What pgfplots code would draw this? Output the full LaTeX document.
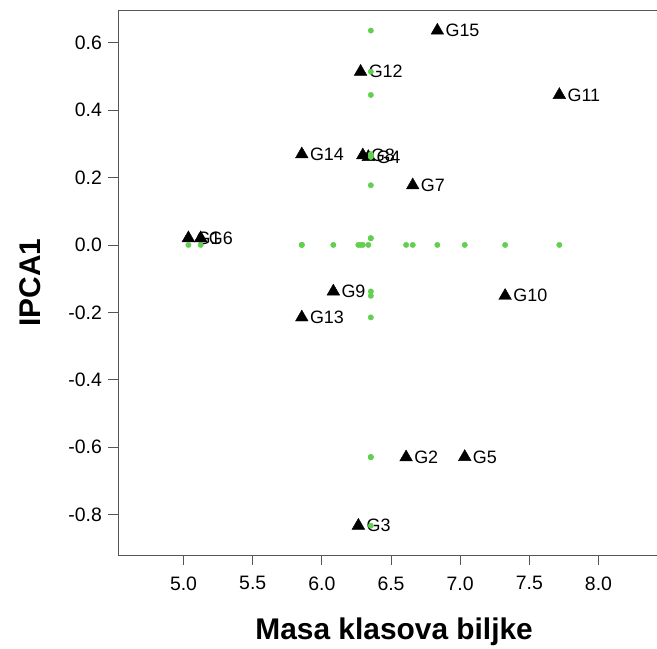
\documentclass[border=0pt]{standalone}
\usepackage{fontspec}
\setmainfont{Liberation Sans}
\usepackage{pgfplots}
\pgfplotsset{compat=1.18}
\definecolor{ptgreen}{HTML}{61D04F}
\definecolor{framegray}{HTML}{555555}

% Genotypes: mass of ears (x) against IPCA1 score (y)
\pgfplotstableread{
x      y       lab
5.035  0.020   G1
6.609  -0.630  G2
6.264  -0.833  G3
6.336  0.261   G4
7.033  -0.629  G5
5.124  0.020   G6
6.657  0.177   G7
6.296  0.266   G8
6.083  -0.138  G9
7.325  -0.151  G10
7.717  0.445   G11
6.280  0.514   G12
5.855  -0.215  G13
5.855  0.269   G14
6.835  0.636   G15
}\genotypes

% Projections onto the IPCA1 = 0 line and onto the line of the mean mass
\pgfplotstableread{
x      y
5.035  0
6.609  0
6.264  0
6.336  0
7.033  0
5.124  0
6.657  0
6.296  0
6.083  0
7.325  0
7.717  0
6.280  0
5.855  0
5.855  0
6.835  0
6.354  0.020
6.354  -0.630
6.354  -0.833
6.354  0.261
6.354  -0.629
6.354  0.020
6.354  0.177
6.354  0.266
6.354  -0.138
6.354  -0.151
6.354  0.445
6.354  0.514
6.354  -0.215
6.354  0.269
6.354  0.636
}\projections

\begin{document}
\begin{tikzpicture}
\path[use as bounding box] (-118.4bp,-94bp) rectangle (538.6bp,555bp);
\begin{axis}[
  at={(0,0)}, anchor=south west,
  scale only axis, width=538.6bp, height=545bp,
  xmin=4.529, xmax=8.423, ymin=-0.920, ymax=0.697,
  axis x line*=box, axis y line*=left,
  xtick pos=left, ytick pos=left,
  xtick={5,5.5,6,6.5,7,7.5,8},
  xticklabels={5.0,5.5,6.0,6.5,7.0,7.5,8.0},
  ytick={-0.8,-0.6,-0.4,-0.2,0,0.2,0.4,0.6},
  yticklabels={-0.8,-0.6,-0.4,-0.2,0.0,0.2,0.4,0.6},
  tick align=outside, major tick length=10bp,
  tick style={line width=0.8bp, color=framegray},
  axis line style={line width=0.8bp, color=framegray},
  tick label style={font=\fontsize{19.5}{22}\selectfont, color=black},
  xticklabel style={yshift=-8bp},
  yticklabel style={xshift=-3bp},
  xlabel={Masa klasova biljke}, ylabel={IPCA1},
  label style={font=\bfseries\fontsize{30}{34}\selectfont},
  xlabel style={at={(axis description cs:0.512,0)}, anchor=base, yshift=-84bp},
  ylabel style={at={(axis description cs:-0.164,0.5)}, anchor=center},
  clip=false,
]
\addplot[only marks, mark=triangle*, mark size=7.3bp, black,
  nodes near coords, point meta=explicit symbolic,
  every node near coord/.append style={anchor=west, inner sep=0pt, xshift=8bp,
    font=\fontsize{18}{20}\selectfont, text=black}]
  table[x=x, y=y, meta=lab] {\genotypes};
\addplot[only marks, mark=*, mark size=2.7bp, color=ptgreen,
  mark options={draw=ptgreen, fill=ptgreen}]
  table[x=x, y=y] {\projections};
\end{axis}
\end{tikzpicture}
\end{document}
